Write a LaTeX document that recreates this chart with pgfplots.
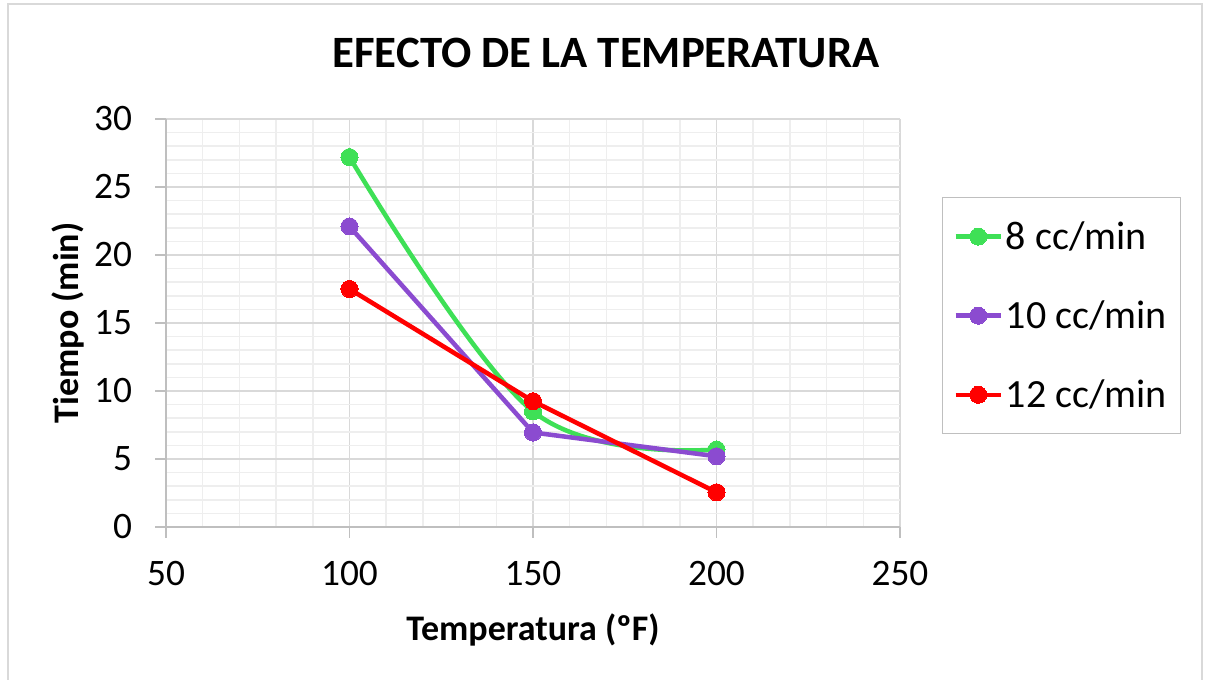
\documentclass[border=0pt]{standalone}
\usepackage{pgfplots}
\pgfplotsset{compat=1.18}
\usepackage{fontspec}
\setmainfont{Carlito}
\definecolor{cgreen}{RGB}{62,224,86}
\definecolor{cpurple}{RGB}{139,75,208}
\definecolor{cred}{RGB}{255,0,0}
\definecolor{majgrid}{RGB}{217,217,217}
\definecolor{mingrid}{RGB}{238,238,238}
\definecolor{axgray}{RGB}{191,191,191}
\begin{document}
\begin{tikzpicture}
\useasboundingbox (-124.5pt,-114.75pt) rectangle (780pt,395.25pt);
\fill[white] (-124.5pt,-114.75pt) rectangle (780pt,395.25pt);
\draw[line width=1.2pt, color=majgrid] (-118.5pt,-130pt) rectangle (777pt,392.25pt);
\node[font=\fontsize{33.6}{40}\selectfont\bfseries, anchor=center] at (330pt,355.5pt) {EFECTO DE LA TEMPERATURA};
\begin{axis}[
  at={(0pt,0pt)}, anchor=south west,
  scale only axis,
  width=550.5pt, height=306pt,
  xmin=50, xmax=250, ymin=0, ymax=30,
  xtick={50,100,150,200,250},
  ytick={0,5,10,15,20,25,30},
  minor x tick num=4,
  minor y tick num=4,
  grid=both,
  major grid style={color=majgrid, line width=1.2pt},
  minor grid style={color=mingrid, line width=1.1pt},
  axis lines*=left,
  axis line style={color=axgray, line width=1.2pt},
  separate axis lines,
  x axis line style={-},
  y axis line style={-},
  tick style={color=axgray, line width=1.2pt},
  major tick length=8pt,
  minor tick length=0pt,
  tick align=outside,
  ticklabel style={font=\fontsize{28}{32}\selectfont},
  /pgf/number format/assume math mode=true,
  yticklabel style={xshift=-14pt},
  xticklabel style={yshift=-14pt},
  xlabel={Temperatura (ºF)},
  ylabel={Tiempo (min)},
  label style={font=\fontsize{27}{32}\selectfont\bfseries},
  xlabel style={at={(axis description cs:0.5,-0.2524)}, anchor=center},
  ylabel style={at={(axis description cs:-0.1335,0.5)}, anchor=center},
  legend style={at={(axis description cs:1.0572,0.8088)}, anchor=north west,
    draw=axgray, line width=1pt, font=\fontsize{30}{36}\selectfont,
    inner xsep=8pt, inner ysep=16pt, row sep=33pt},
  legend cell align=left,
  legend image code/.code={
    \draw[#1, mark repeat=2, mark phase=2] plot coordinates {(0pt,0pt) (17pt,0pt) (34pt,0pt)};
  },
]
\addplot[color=cgreen, line width=3.4pt, smooth, tension=0.6, mark=*, mark size=6.4pt, mark options={solid, fill=cgreen, draw=cgreen, line width=0pt}]
  coordinates {(100,27.2) (150,8.5) (200,5.7)};
\addlegendentry{8 cc/min}
\addplot[color=cpurple, line width=3.4pt, mark=*, mark size=6.4pt, mark options={solid, fill=cpurple, draw=cpurple, line width=0pt}]
  coordinates {(100,22.1) (150,6.95) (200,5.2)};
\addlegendentry{10 cc/min}
\addplot[color=cred, line width=3.4pt, mark=*, mark size=6.4pt, mark options={solid, fill=cred, draw=cred, line width=0pt}]
  coordinates {(100,17.5) (150,9.25) (200,2.55)};
\addlegendentry{12 cc/min}
\end{axis}
\end{tikzpicture}
\end{document}
